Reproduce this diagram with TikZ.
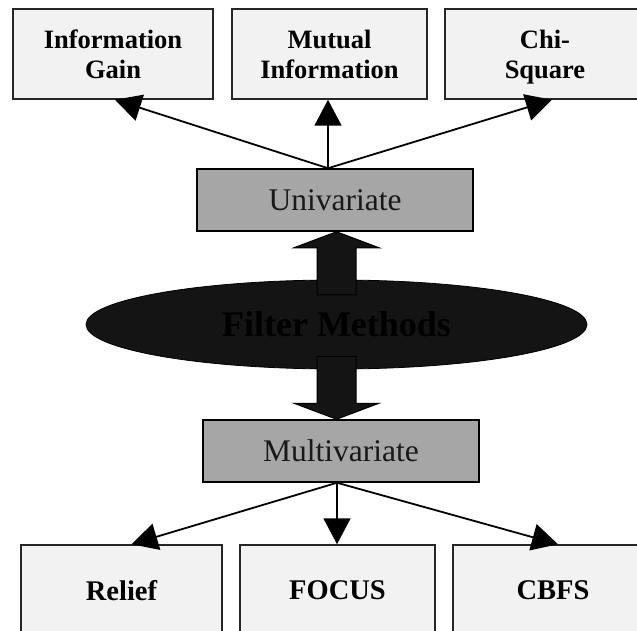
\documentclass[tikz,border=0pt]{standalone}
\usepackage{fontspec}
\setmainfont{Liberation Serif}
\usetikzlibrary{arrows.meta,calc,shapes.geometric}
\definecolor{boxfill}{HTML}{F2F2F2}
\definecolor{midfill}{HTML}{A6A6A6}
\definecolor{ellfill}{HTML}{141414}
\begin{document}
\begin{tikzpicture}[x=1pt,y=-1pt,
  leaf/.style={draw=black!85, line width=1.5pt, fill=boxfill, minimum height=90pt,
    inner sep=0pt, align=center, font=\fontsize{26.5}{30}\selectfont\bfseries},
  lowleaf/.style={leaf, minimum height=91pt, font=\fontsize{28.5}{32}\selectfont\bfseries},
  mid/.style={draw=black, line width=1.5pt, fill=midfill, minimum width=276pt,
    minimum height=62pt, inner sep=0pt, font=\fontsize{31.5}{34}\selectfont, text=black!90},
  conn/.style={line width=1.8pt, -{Triangle[length=26pt,width=27pt]}},
  blockarrow/.style={draw=black, line width=1pt, fill=ellfill}]
\useasboundingbox (0,0) rectangle (637,631);
% top row
\node[leaf, minimum width=200pt] (ig) at (113,54) {Information\\Gain};
\node[leaf, minimum width=195pt] (mi) at (329.5,54) {Mutual\\Information};
\node[leaf, minimum width=200pt] (cs) at (545,54) {Chi-\\\raisebox{0pt}[\height][0pt]{Square}};
% univariate
\node[mid] (uni) at (335,200) {Univariate};
% filter methods
\node[ellipse, draw=black, line width=0.8pt, fill=ellfill, minimum width=501pt,
  minimum height=89pt, inner sep=0pt, text=black,
  font=\fontsize{36}{40}\selectfont\bfseries] (fm) at (336.5,324.5) {Filter Methods};
% multivariate
\node[mid] (multi) at (341,451) {Multivariate};
% bottom row
\node[lowleaf, minimum width=201pt] (rel) at (121.5,590.5) {Relief};
\node[lowleaf, minimum width=195pt] (foc) at (337.5,590.5) {FOCUS};
\node[lowleaf, minimum width=200pt] (cb) at (553,590.5) {CBFS};
% connectors top
\coordinate (uo) at ([xshift=-7pt]uni.north);
\draw[conn] (uo) -- ([xshift=2pt]ig.south);
\draw[conn] (uo) -- ([xshift=-1.5pt]mi.south);
\draw[conn] (uo) -- ([xshift=7pt]cs.south);
% connectors bottom
\coordinate (mo) at ([xshift=-4pt]multi.south);
\draw[conn] (mo) -- ([xshift=10pt]rel.north);
\draw[conn] (mo) -- ([xshift=-0.5pt]foc.north);
\draw[conn] (mo) -- ([xshift=5pt]cb.north);
% block arrows
\draw[blockarrow] ($(uni.south)+(1.5,0)$) -- ++(42.5,16) -- ++(-23,0) -- ++(0,47)
  -- ++(-39,0) -- ++(0,-47) -- ++(-23,0) -- cycle;
\draw[blockarrow] ($(multi.north)+(-4.5,0)$) -- ++(42.5,-16) -- ++(-23,0) -- ++(0,-47)
  -- ++(-39,0) -- ++(0,47) -- ++(-23,0) -- cycle;
\end{tikzpicture}
\end{document}
